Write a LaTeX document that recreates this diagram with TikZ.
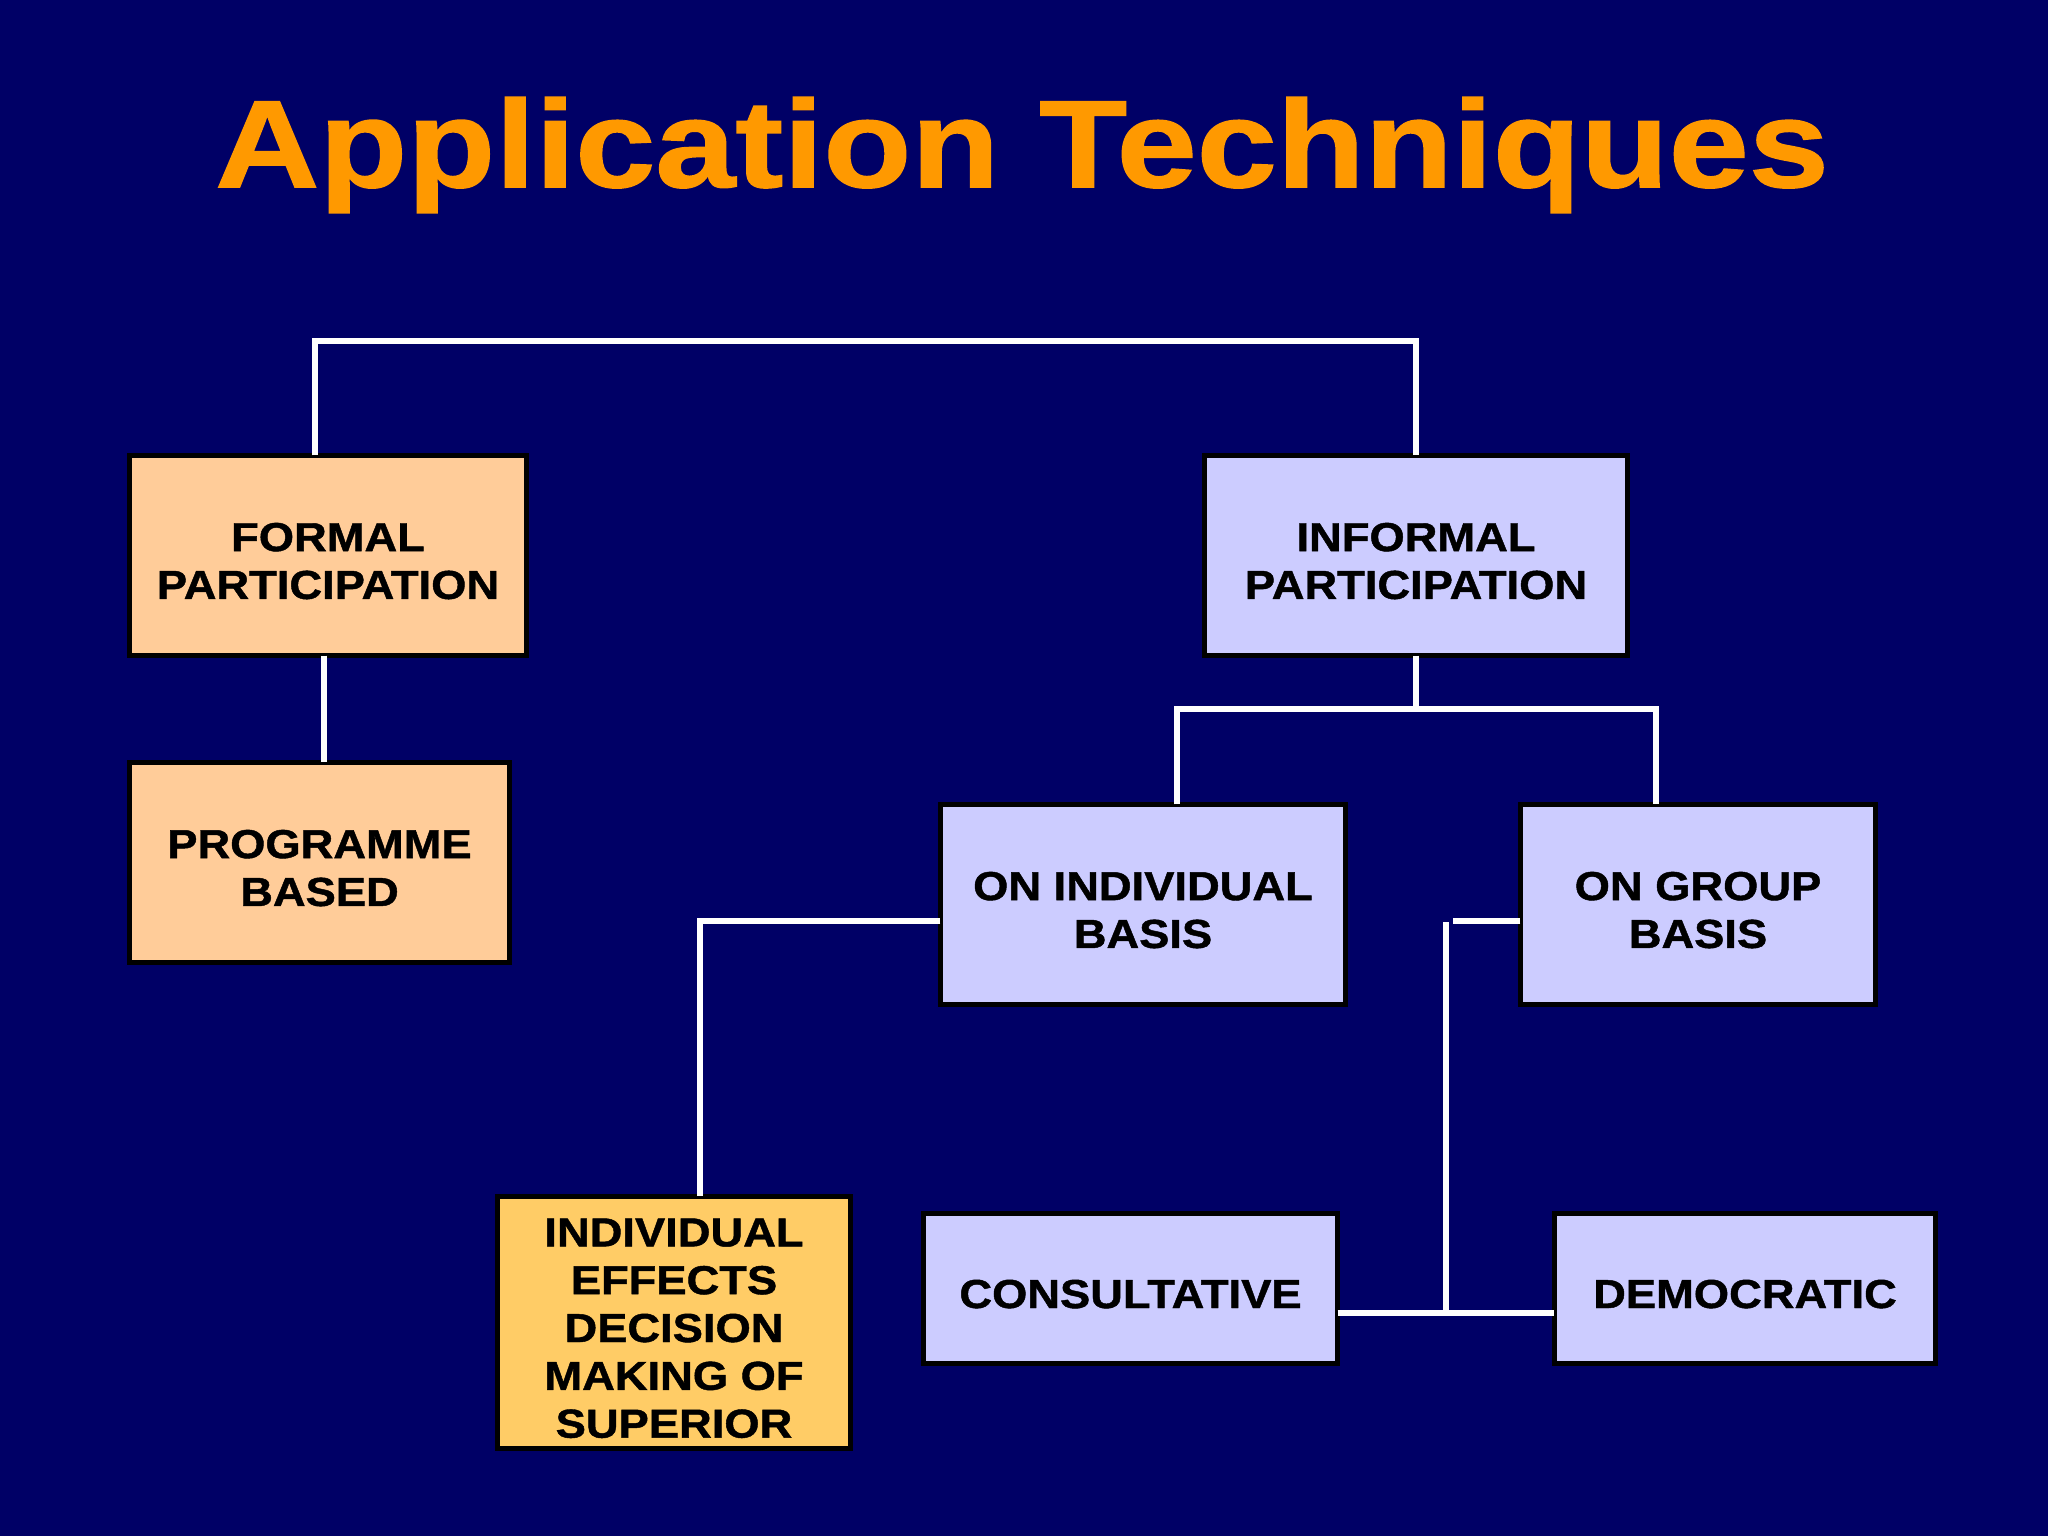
\documentclass[tikz,border=0pt]{standalone}
\usepackage{fontspec}
\setmainfont{Liberation Sans}
\newfontfamily\heavy{Liberation Sans}[FakeStretch=1.12,FakeBold=1.1]
\newfontfamily\titlefont{Liberation Sans}[FakeStretch=1.16,FakeBold=1.2]
\newcommand\lowr{\rule{0pt}{11.2pt}}
\definecolor{bgblue}{HTML}{000066}
\definecolor{peach}{HTML}{FFCC99}
\definecolor{lav}{HTML}{CCCCFF}
\definecolor{gold}{HTML}{FFCC66}
\definecolor{ttlorange}{HTML}{FF9900}
\begin{document}
\begin{tikzpicture}[x=0.01cm,y=-0.01cm,
  boxbase/.style={draw=black, line width=1.5pt, rectangle, inner sep=0pt, outer sep=0pt,
    align=center, font=\heavy\bfseries\fontsize{11.5}{13.6}\selectfont, text=black},
  peachbox/.style={boxbase, fill=peach},
  lavbox/.style={boxbase, fill=lav},
  goldbox/.style={boxbase, fill=gold},
  wire/.style={draw=white, line width=1.5pt}]
\fill[bgblue] (0,0) rectangle (2048,1536);
\useasboundingbox (0,0) rectangle (2048,1536);

\node[text=ttlorange, anchor=base, font=\titlefont\bfseries\fontsize{35.3}{40}\selectfont] (title) at (1022,187) {Application Techniques};

\node[peachbox, minimum width=3.97cm, minimum height=2.00cm] (formal) at (328,555.5) {\lowr FORMAL\\PARTICIPATION};
\node[peachbox, minimum width=3.80cm, minimum height=2.00cm] (prog) at (319.5,862.5) {\lowr PROGRAMME\\BASED};
\node[lavbox, minimum width=4.23cm, minimum height=2.00cm] (informal) at (1416,555.5) {\lowr INFORMAL\\PARTICIPATION};
\node[lavbox, minimum width=4.05cm, minimum height=2.00cm] (indb) at (1143,904.5) {\lowr ON INDIVIDUAL\\BASIS};
\node[lavbox, minimum width=3.55cm, minimum height=2.00cm] (grpb) at (1698,904.5) {\lowr ON GROUP\\BASIS};
\node[goldbox, minimum width=3.53cm, minimum height=2.52cm] (indeff) at (674,1322.5) {\lowr INDIVIDUAL\\EFFECTS\\DECISION\\MAKING OF\\SUPERIOR};
\node[lavbox, minimum width=4.14cm, minimum height=1.50cm] (consult) at (1130.5,1288.5) {\lowr CONSULTATIVE};
\node[lavbox, minimum width=3.81cm, minimum height=1.50cm] (democ) at (1745,1288.5) {\lowr DEMOCRATIC};

\coordinate (topbar) at (0,341);
\coordinate (midbar) at (0,709);
\coordinate (gv) at (1446,922);

\draw[wire] ([xshift=-0.13cm]formal.north) -- ([xshift=-0.13cm]formal.north |- topbar)
  -- (informal.north |- topbar) -- (informal.north);
\draw[wire] ([xshift=-0.04cm]formal.south) -- ([xshift=-0.04cm]formal.south |- prog.north);
\draw[wire] (informal.south) -- (informal.south |- midbar);
\draw[wire] ([xshift=0.34cm]indb.north) -- ([xshift=0.34cm]indb.north |- midbar)
  -- ([xshift=-0.42cm]grpb.north |- midbar) -- ([xshift=-0.42cm]grpb.north);
\draw[wire] ([yshift=-0.165cm]indb.west) -| ([xshift=0.26cm]indeff.north);
\draw[wire, line width=1.7pt] ([yshift=-0.245cm]consult.east) coordinate (cb) -- ([yshift=-0.245cm]democ.west);
\draw[wire] (gv) -- (gv |- cb);
\draw[wire] ([yshift=-0.165cm]grpb.west) -- ++(-67,0);
\end{tikzpicture}
\end{document}
